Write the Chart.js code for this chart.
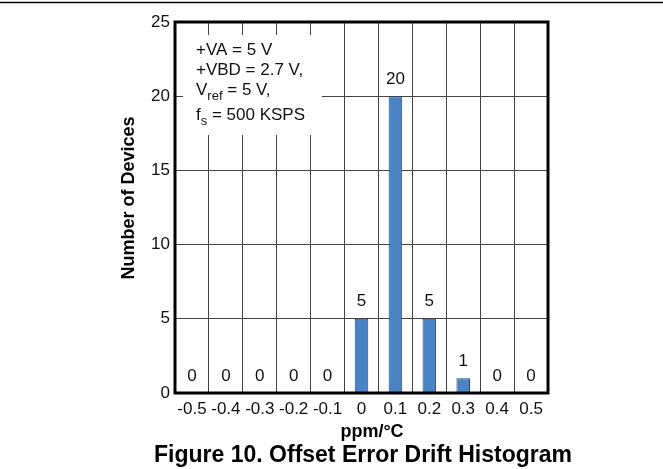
<!DOCTYPE html>
<html>
<head>
<meta charset="utf-8">
<script src="https://cdn.jsdelivr.net/npm/chart.js@4/dist/chart.umd.min.js"></script>
<style>
html,body{margin:0;padding:0;background:#fff;}
#wrap{width:663px;height:469px;position:relative;}
</style>
</head>
<body>
<div id="wrap"><canvas id="c" width="663" height="469"></canvas></div>
<script>
const categories = ['-0.5','-0.4','-0.3','-0.2','-0.1','0','0.1','0.2','0.3','0.4','0.5'];
const deviceCounts = [0,0,0,0,0,5,20,5,1,0,0];
const yTicks = [0,5,10,15,20,25];
const conditionLines = ['+VA = 5 V','+VBD = 2.7 V,','V|ref| = 5 V,','f|s| = 500 KSPS'];
const xTitle = 'ppm/°C';
const yTitle = 'Number of Devices';
const figTitle = 'Figure 10. Offset Error Drift Histogram';

const FONT = 'Arial, "Liberation Sans", sans-serif';
const AREA = {left:175, right:548, top:22, bottom:393};

const decor = {
  id:'decor',
  afterDatasetsDraw(chart){
    const ctx = chart.ctx;
    const xs = chart.scales.x, ys = chart.scales.y;
    const ca = chart.chartArea;
    ctx.save();
    // value labels
    ctx.fillStyle = '#111';
    ctx.font = '17px ' + FONT;
    ctx.textAlign = 'center';
    ctx.textBaseline = 'middle';
    deviceCounts.forEach((v,i)=>{
      ctx.fillText(String(v), xs.getPixelForValue(i), ys.getPixelForValue(v) - 17);
    });
    // condition box
    ctx.fillStyle = '#fff';
    ctx.fillRect(183, 35, 139, 100);
    ctx.fillStyle = '#111';
    ctx.textAlign = 'left';
    ctx.textBaseline = 'alphabetic';
    const baseY = [55, 75, 95, 120];
    conditionLines.forEach((ln,k)=>{
      const parts = ln.split('|');
      let x = 196;
      ctx.font = '17px ' + FONT;
      ctx.fillText(parts[0], x, baseY[k]);
      x += ctx.measureText(parts[0]).width;
      if (parts.length > 1){
        ctx.font = '13px ' + FONT;
        ctx.fillText(parts[1], x, baseY[k] + 5);
        x += ctx.measureText(parts[1]).width;
        ctx.font = '17px ' + FONT;
        ctx.fillText(parts[2], x, baseY[k]);
      }
    });
    // frame
    ctx.strokeStyle = '#000';
    ctx.lineWidth = 3;
    ctx.strokeRect(ca.left, ca.top, ca.right - ca.left, ca.bottom - ca.top);
    // top rule
    ctx.lineWidth = 1.5;
    ctx.beginPath(); ctx.moveTo(0, 2.5); ctx.lineTo(663, 2.5); ctx.stroke();
    // titles
    ctx.fillStyle = '#000';
    ctx.textAlign = 'center';
    ctx.textBaseline = 'middle';
    ctx.font = 'bold 18px ' + FONT;
    ctx.fillText(xTitle, 372, 432);
    ctx.font = 'bold 23px ' + FONT;
    ctx.fillText(figTitle, 363, 456);
    ctx.save();
    ctx.translate(129, 198);
    ctx.rotate(-Math.PI/2);
    ctx.font = 'bold 18px ' + FONT;
    ctx.fillText(yTitle, 0, 0);
    ctx.restore();
    ctx.restore();
  }
};

new Chart(document.getElementById('c'), {
  type:'bar',
  data:{
    labels: categories,
    datasets:[{
      data: deviceCounts,
      backgroundColor:'#4a84c4',
      borderColor:'#24466f',
      borderWidth:1,
      barPercentage:0.4,
      categoryPercentage:1.0
    }]
  },
  options:{
    responsive:false,
    animation:false,
    devicePixelRatio:1,
    layout:{padding:{left:0, right:663-AREA.right, top:AREA.top, bottom:0}},
    plugins:{legend:{display:false}, tooltip:{enabled:false}, title:{display:false}},
    scales:{
      x:{
        grid:{display:true, offset:true, color:'#444', lineWidth:1, drawTicks:false},
        border:{display:false},
        ticks:{color:'#111', font:{size:17, family:FONT}, padding:6, maxRotation:0, autoSkip:false},
        afterFit(s){ s.height = 469 - AREA.bottom; }
      },
      y:{
        min:0, max:25,
        afterBuildTicks(s){ s.ticks = yTicks.map(v=>({value:v})); },
        grid:{display:true, color:'#444', lineWidth:1, drawTicks:false},
        border:{display:false},
        ticks:{color:'#111', font:{size:17, family:FONT}, padding:5},
        afterFit(s){ s.width = AREA.left; }
      }
    }
  },
  plugins:[decor]
});
</script>
</body>
</html>
